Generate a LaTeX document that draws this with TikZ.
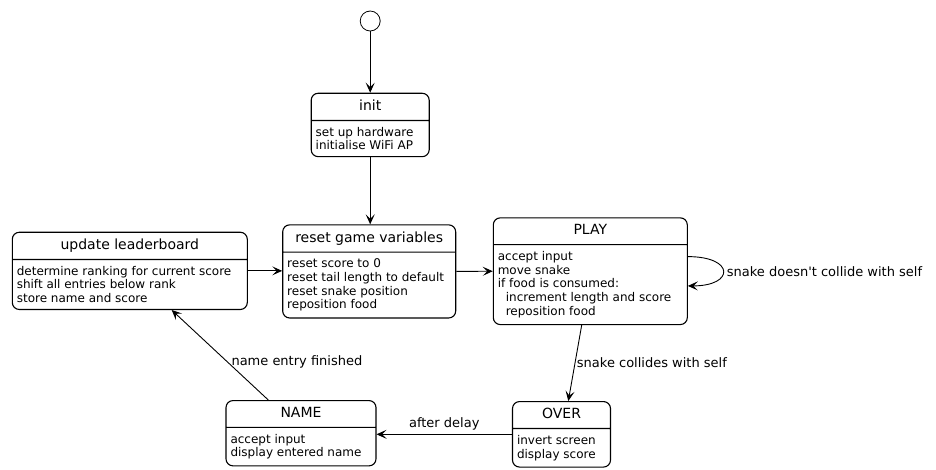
\documentclass[tikz,border=0pt]{standalone}
\usepackage{fontspec}
\setmainfont{DejaVu Sans}
\usetikzlibrary{positioning,shapes.multipart,arrows.meta}

\newcommand{\sttitle}[1]{{\fontsize{14pt}{16pt}\selectfont\rule[-3.5pt]{0pt}{13.5pt}#1}}

\begin{document}
\begin{tikzpicture}[
    x=1pt, y=-1pt,
    state/.style={rectangle split, rectangle split parts=2, rectangle split part align={center,left}, draw=black, line width=1.1pt, rounded corners=7pt, fill=white, align=left, inner xsep=4.5pt, inner ysep=6pt, font=\fontsize{12pt}{13.8pt}\selectfont, anchor=north},
    startnode/.style={circle, draw=black, line width=0.8pt, minimum size=20pt, inner sep=0pt},
    arrow/.style={-{Stealth[length=10pt,width=9pt,inset=4.5pt]}, line width=0.9pt},
    lbl/.style={font=\fontsize{13pt}{15pt}\selectfont}
]
\useasboundingbox (0,0) rectangle (936,469);

% Initial pseudo state (top)
\node[startnode] (start) at (370.2,21) {};

% init state
\node[state, minimum width=118pt] (init) at (370.2,92.7) {\nodepart{one}\sttitle{init}\nodepart{two}set up hardware\\initialise WiFi AP};
\draw[arrow] (start) -- (init.north);

% Reset state (center)
\node[state, minimum width=173pt] (reset) at (369.2,224.3) {\nodepart{one}\sttitle{reset game variables}\nodepart{two}reset score to 0\\reset tail length to default\\reset snake position\\reposition food};
\draw[arrow] (init.south) -- (init.south |- reset.north);

% Leaderboard (left)
\node[state, minimum width=235pt] (update) at (129.8,231.7) {\nodepart{one}\sttitle{update leaderboard}\nodepart{two}determine ranking for current score\\shift all entries below rank\\store name and score};
\draw[arrow] (update.east) -- (update.east -| reset.west);

% Game loop (right)
\node[state, minimum width=194pt] (play) at (590.3,217.3) {\nodepart{one}\sttitle{PLAY}\nodepart{two}accept input\\move snake\\if food is consumed:\\\hspace*{8pt}increment length and score\\\hspace*{8pt}reposition food};
\draw[arrow] (reset.east) -- (play.west);
\draw[arrow] ([yshift=14.6pt]play.east) to[out=0, in=0, distance=47pt] node[lbl, right] (loopLbl) {snake doesn\textquotesingle t collide with self} ([yshift=-14.7pt]play.east);

% Game over and name entry (bottom)
\node[state, minimum width=98pt] (over) at (561.5,401) {\nodepart{one}\sttitle{OVER}\nodepart{two}invert screen\\display score};
\node[state, minimum width=150pt] (nameentry) at (301,400) {\nodepart{one}\sttitle{NAME}\nodepart{two}accept input\\display entered name};
\draw[arrow] ([xshift=-8.6pt]play.south) -- node[lbl, right, inner sep=1.5pt] (collLbl) {snake collides with self} ([xshift=6.8pt]over.north);
\draw[arrow] (over.west) -- node[lbl, above] (delayLbl) {after delay} (over.west -| nameentry.east);
\draw[arrow] ([xshift=-32.7pt]nameentry.north) -- node[lbl, pos=0.42, right] (doneLbl) {name entry finished} ([xshift=41.9pt]update.south);

\end{tikzpicture}
\end{document}
